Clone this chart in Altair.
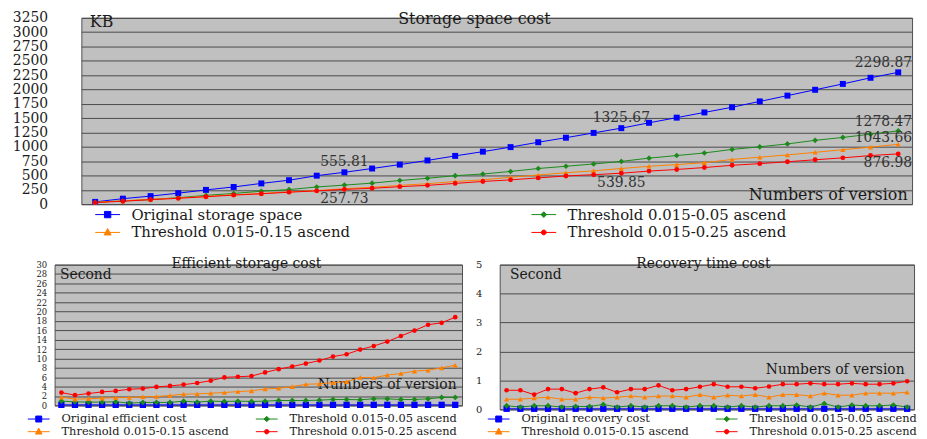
import altair as alt
import pandas as pd

FONT = "DejaVu Serif"
TXT = "#1a1a1a"
BG = "#c0c0c0"
GRID = "#4a4a4a"
BORDER = "#505050"

versions = list(range(1, 31))

# ---------------- top panel: storage space ----------------
top_names = ["Original storage space", "Threshold 0.015-0.05 ascend",
             "Threshold 0.015-0.15 ascend", "Threshold 0.015-0.25 ascend"]
top_original = [40, 96, 141, 192, 249, 300, 362, 418, 497, 555.81,
                622, 690, 763, 842, 916, 995, 1080, 1159, 1243, 1325.67,
                1419, 1509, 1600, 1690, 1792, 1893, 1995, 2097, 2204, 2298.87]
top_t005 = [34, 57, 79, 113, 153, 187, 226, 254, 300, 333,
            367, 413, 452, 497, 526, 571, 622, 661, 701, 746,
            803, 848, 893, 955, 1000, 1051, 1113, 1164, 1221, 1278.47]
top_t015 = [34, 57, 85, 107, 136, 164, 187, 215, 237, 271,
            294, 328, 356, 396, 424, 469, 509, 548, 582, 622,
            661, 690, 723, 780, 820, 859, 904, 950, 995, 1043.66]
top_t025 = [28, 51, 79, 102, 130, 158, 181, 209, 232, 257.73,
            277, 305, 328, 362, 396, 424, 458, 492, 514, 539.85,
            577, 605, 639, 678, 707, 740, 774, 808, 848, 876.98]
top_ticks = [0, 250, 500, 750, 1000, 1250, 1500, 1750, 2000, 2250, 2500, 2750, 3000, 3250]

note_versions = [10, 10, 20, 20, 30, 30, 30, 30]
note_values = [555.81, 257.73, 1325.67, 539.85, 2298.87, 1278.47, 1043.66, 876.98]
note_place = ["above", "below", "above", "below", "end-above", "end-above", "end-above-low", "end-below"]

# ---------------- bottom left: efficient storage cost ----------------
eff_names = ["Original efficient cost", "Threshold 0.015-0.05 ascend",
             "Threshold 0.015-0.15 ascend", "Threshold 0.015-0.25 ascend"]
eff_original = [0.12, 0.12, 0.12, 0.12, 0.12, 0.12, 0.12, 0.12, 0.12, 0.12,
                0.12, 0.12, 0.12, 0.12, 0.12, 0.12, 0.12, 0.12, 0.12, 0.12,
                0.12, 0.12, 0.12, 0.12, 0.12, 0.12, 0.12, 0.12, 0.12, 0.12]
eff_t005 = [0.91, 0.77, 0.70, 0.70, 0.77, 0.49, 0.63, 0.63, 0.63, 0.91,
            0.70, 0.91, 0.84, 0.91, 0.84, 0.91, 1.05, 1.05, 1.05, 1.12,
            1.26, 1.26, 1.20, 1.40, 1.40, 1.26, 1.26, 1.40, 1.69, 1.69]
eff_t015 = [1.76, 1.34, 1.41, 1.55, 1.62, 1.69, 1.83, 1.90, 2.10, 2.40,
            2.46, 2.60, 2.74, 2.95, 3.10, 3.50, 3.65, 4.00, 4.50, 4.60,
            4.85, 5.06, 5.97, 5.90, 6.47, 6.80, 7.30, 7.50, 8.00, 8.57]
eff_t025 = [2.74, 2.18, 2.53, 2.88, 3.09, 3.44, 3.58, 3.94, 4.15, 4.43,
            4.78, 5.27, 5.97, 6.11, 6.25, 7.03, 7.73, 8.29, 8.92, 9.56,
            10.4, 10.9, 11.9, 12.65, 13.6, 14.8, 15.95, 17.2, 17.6, 18.8]
eff_ticks = [0, 2, 4, 6, 8, 10, 12, 14, 16, 18, 20, 22, 24, 26, 28, 30]

# ---------------- bottom right: recovery time cost ----------------
rec_names = ["Original recovery cost", "Threshold 0.015-0.05 ascend",
             "Threshold 0.015-0.15 ascend", "Threshold 0.015-0.25 ascend"]
rec_original = [0.02, 0.02, 0.02, 0.02, 0.02, 0.02, 0.02, 0.02, 0.02, 0.02,
                0.02, 0.02, 0.02, 0.02, 0.02, 0.02, 0.02, 0.02, 0.02, 0.02,
                0.02, 0.02, 0.02, 0.02, 0.02, 0.02, 0.02, 0.02, 0.02, 0.02]
rec_t005 = [0.125, 0.08, 0.125, 0.125, 0.08, 0.10, 0.10, 0.17, 0.08, 0.125,
            0.08, 0.125, 0.125, 0.08, 0.125, 0.125, 0.08, 0.125, 0.08, 0.125,
            0.125, 0.15, 0.08, 0.20, 0.08, 0.15, 0.125, 0.125, 0.15, 0.08]
rec_t015 = [0.35, 0.35, 0.39, 0.42, 0.35, 0.35, 0.42, 0.39, 0.42, 0.46,
            0.42, 0.46, 0.46, 0.42, 0.51, 0.42, 0.49, 0.46, 0.51, 0.42,
            0.51, 0.51, 0.46, 0.56, 0.49, 0.49, 0.56, 0.56, 0.56, 0.59]
rec_t025 = [0.66, 0.66, 0.51, 0.70, 0.70, 0.56, 0.70, 0.76, 0.59, 0.70,
            0.70, 0.83, 0.66, 0.70, 0.78, 0.87, 0.78, 0.78, 0.73, 0.79,
            0.87, 0.87, 0.90, 0.87, 0.87, 0.90, 0.87, 0.87, 0.90, 0.97]
rec_ticks = [0, 1, 2, 3, 4, 5]

series_colors = ["#0000ff", "#1b8a1b", "#ff8000", "#ff0000"]
point_shapes = ["square", "diamond", "triangle-up", "circle"]


def js_list(items):
    return "[" + ",".join("'" + str(i) + "'" for i in items) + "]"


def legend_paths(width_px, sym_px, m):
    """Line stub of width_px with a small marker, in units of half the symbol size."""
    u = sym_px / 2.0
    k = width_px / 2.0 / u

    def f(v):
        return "%.3f" % (v / u)
    stub = "M%.3f,0H%.3f" % (-k, k)
    sq = stub + "M{a},{a}H{b}V{b}H{a}Z".format(a=f(-m), b=f(m))
    di = stub + "M0,{a}L{b},0L0,{b}L{a},0Z".format(a=f(-m * 0.9), b=f(m * 0.9))
    tr = stub + "M0,{t}L{r},{bt}H{l}Z".format(t=f(-m * 1.2), r=f(m * 1.1), bt=f(m * 0.8), l=f(-m * 1.1))
    r = f(m * 0.75)
    ci = stub + "M-{r},0A{r},{r},0,1,1,{r},0A{r},{r},0,1,1,-{r},0Z".format(r=r)
    return [sq, di, tr, ci]


def panel(names, series, ticks, ymax, w, h, cfg, notes=None):
    rows = []
    for k, (name, vals) in enumerate(zip(names, series)):
        for v, val in zip(versions, vals):
            rows.append({"version": v, "series": name, "k": k, "value": val})
    df = pd.DataFrame(rows)

    xscale = alt.Scale(type="point", padding=0.5, domain=versions)
    x_bottom = alt.X("version:O", scale=xscale,
                     axis=alt.Axis(orient="bottom", labels=False, ticks=False, domain=False, grid=False,
                                   title=cfg["xtitle"], titleX=cfg["xtitle_x"], titleY=cfg["xtitle_y"],
                                   titleAlign="right", titleBaseline="alphabetic", titleAngle=0,
                                   titleFont=FONT, titleFontSize=cfg["text_size"],
                                   titleFontWeight="normal", titleColor=TXT))
    x_top = alt.X("version:O", scale=xscale,
                  axis=alt.Axis(orient="top", labels=False, ticks=False, domain=False, grid=False,
                                title=cfg["title"], titleX=cfg["title_x"], titleY=cfg["title_y"],
                                titleAlign="center", titleBaseline="alphabetic", titleAngle=0,
                                titleFont=FONT, titleFontSize=cfg["title_size"],
                                titleFontWeight="normal", titleColor=TXT))
    x_none = alt.X("version:O", scale=xscale, axis=None)
    yenc = alt.Y("value:Q",
                 scale=alt.Scale(domain=[0, ymax], nice=False, zero=False),
                 axis=alt.Axis(values=ticks, format="d", grid=True, gridColor=GRID,
                               gridWidth=1, gridOpacity=1, domain=False, ticks=False, tickSize=0,
                               labelPadding=cfg["label_pad"], labelFont=FONT,
                               labelFontSize=cfg["label_size"], labelColor=TXT,
                               labelOverlap=False, labelFlush=False,
                               title=cfg["ytitle"], titleX=cfg["ytitle_x"], titleY=cfg["ytitle_y"],
                               titleAngle=0, titleAlign="left", titleBaseline="alphabetic",
                               titleFont=FONT, titleFontSize=cfg["text_size"],
                               titleFontWeight="normal", titleColor=TXT))

    cscale = alt.Scale(domain=names, range=series_colors)
    idx = "indexof(" + js_list(names) + ", datum.value)"
    paths = legend_paths(cfg["leg_w"], cfg["leg_sym"], cfg["leg_m"])
    legend = alt.Legend(
        orient="none", legendX=cfg["leg_x"], legendY=cfg["leg_y"], columns=2,
        values=[names[0], names[2], names[1], names[3]],
        columnPadding=cfg["leg_colpad"], rowPadding=cfg["leg_rowpad"], title=None, padding=0,
        labelFont=FONT, labelFontSize=cfg["leg_font"], labelColor=TXT,
        labelOffset=cfg["leg_offset"], labelLimit=600,
        symbolSize=cfg["leg_sym"] ** 2, symbolStrokeWidth=1, symbolOpacity=1,
        symbolOffset=cfg["leg_symoff"],
        symbolType=alt.ExprRef(expr=js_list(paths) + "[" + idx + "]"),
        symbolStrokeColor=alt.ExprRef(expr=js_list(series_colors) + "[" + idx + "]"),
    )

    base = alt.Chart(df)
    line = base.mark_line(strokeWidth=1).encode(
        x=x_bottom, y=yenc, color=alt.Color("series:N", scale=cscale, legend=legend))
    pts = base.mark_point(filled=True, opacity=1).encode(
        x=x_top, y=yenc,
        color=alt.Color("series:N", scale=cscale, legend=legend),
        shape=alt.Shape("k:O", scale=alt.Scale(range=point_shapes), legend=None),
        size=alt.Size("k:O", scale=alt.Scale(range=cfg["sizes"]), legend=None),
    )
    layers = [line, pts]
    if notes is not None:
        for place, dx, dy, align in [("above", 0, -10, "center"), ("below", 0, 10, "center"),
                                     ("end-above", 14, -9, "right"), ("end-above-low", 14, -6, "right"),
                                     ("end-below", 14, 9, "right")]:
            layers.append(
                alt.Chart(notes).transform_filter(alt.datum.place == place)
                .mark_text(font=FONT, fontSize=cfg["note_size"], color="#333333",
                           align=align, baseline="middle", dx=dx, dy=dy)
                .encode(x=x_none, y=yenc, text=alt.Text("value:Q", format=".2f"))
            )
    return alt.layer(*layers).resolve_axis(x="independent").properties(
        width=w, height=h,
        view=alt.ViewBackground(fill=BG, stroke=BORDER, strokeWidth=1),
    )


def spacer(width):
    return alt.Chart(pd.DataFrame({"v": []})).mark_point(opacity=0).properties(
        width=width, height=1, view=alt.ViewBackground(fill="transparent", stroke="transparent"))


top_notes = pd.DataFrame({"version": note_versions, "value": note_values, "place": note_place})

top = panel(top_names, [top_original, top_t005, top_t015, top_t025], top_ticks, 3250, 838, 188, dict(
    xtitle="Numbers of version", xtitle_x=833, xtitle_y=-5,
    ytitle="KB", ytitle_x=8, ytitle_y=9, text_size=16,
    label_pad=34, label_size=14,
    title="Storage space cost", title_size=16, title_x=396, title_y=6,
    leg_x=14, leg_y=190.5, leg_colpad=179, leg_rowpad=2, leg_font=15, leg_offset=16, leg_sym=15,
    leg_symoff=4.5, leg_w=25, leg_m=3.2,
    sizes=[36, 24, 40, 26], note_size=14,
), notes=top_notes)

eff = panel(eff_names, [eff_original, eff_t005, eff_t015, eff_t025], eff_ticks, 30, 411, 142, dict(
    xtitle="Numbers of version", xtitle_x=405, xtitle_y=-17,
    ytitle="Second", ytitle_x=5, ytitle_y=14, text_size=14,
    label_pad=8, label_size=8.5,
    title="Efficient storage cost", title_size=14, title_x=193, title_y=3,
    leg_x=-27, leg_y=148.5, leg_colpad=24, leg_rowpad=0, leg_font=11.5, leg_offset=16, leg_sym=13,
    leg_symoff=4, leg_w=22, leg_m=3,
    sizes=[40, 22, 40, 22], note_size=12,
))

rec = panel(rec_names, [rec_original, rec_t005, rec_t015, rec_t025], rec_ticks, 5, 418, 146, dict(
    xtitle="Numbers of version", xtitle_x=408, xtitle_y=-36,
    ytitle="Second", ytitle_x=10, ytitle_y=14, text_size=14,
    label_pad=18, label_size=10,
    title="Recovery time cost", title_size=14, title_x=205, title_y=3,
    leg_x=-12, leg_y=148.5, leg_colpad=24, leg_rowpad=0, leg_font=11.5, leg_offset=16, leg_sym=13,
    leg_symoff=4, leg_w=22, leg_m=3,
    sizes=[40, 22, 40, 22], note_size=12,
))

indep = dict(x="independent", y="independent", color="independent",
             shape="independent", size="independent")

bottom_pair = alt.hconcat(eff, rec, spacing=12).resolve_scale(**indep)
row_top = alt.hconcat(spacer(1), top, spacing=0).resolve_scale(**indep)
row_bottom = alt.hconcat(spacer(17), bottom_pair, spacing=0).resolve_scale(**indep)

chart = alt.vconcat(row_top, row_bottom, spacing=15).resolve_scale(**indep).properties(
    padding={"left": 0, "top": 0, "right": 0, "bottom": 0},
    background="white",
).configure_view(fill=BG, stroke=BORDER)

chart.save("out.html", embed_options={"renderer": "svg", "actions": False})
